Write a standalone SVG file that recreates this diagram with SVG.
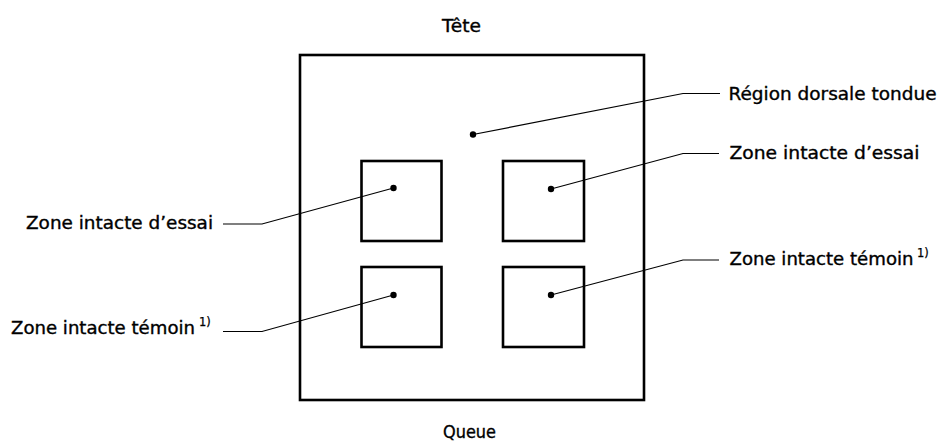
<svg xmlns="http://www.w3.org/2000/svg" width="940" height="442" viewBox="0 0 940 442">
<style>
.lbl{font-family:"DejaVu Sans","Liberation Sans",sans-serif;font-size:17px;fill:#000;stroke:#000;stroke-width:0.35}
.sup{font-family:"DejaVu Sans","Liberation Sans",sans-serif;font-size:11.5px;fill:#000;stroke:#000;stroke-width:0.25}
.box{fill:none;stroke:#000;stroke-width:2.6}
.lead{fill:none;stroke:#000;stroke-width:1.2}
.dot{fill:#000}
</style>
<rect width="940" height="442" fill="#fff"/>
<g id="outer">
<rect class="box" x="300" y="55" width="344" height="345" stroke-width="3"/>
</g>
<g id="tete"><text class="lbl" x="442" y="31.5" textLength="39" lengthAdjust="spacingAndGlyphs">Tête</text></g>
<g id="queue"><text class="lbl" x="443" y="438" textLength="53" lengthAdjust="spacingAndGlyphs">Queue</text></g>
<g id="zone-tl"><rect class="box" x="361.5" y="161" width="80" height="80"/><circle class="dot" cx="393.5" cy="188" r="3.2"/></g>
<g id="zone-bl"><rect class="box" x="361.5" y="267" width="80" height="80"/><circle class="dot" cx="393.5" cy="295" r="3.2"/></g>
<g id="zone-tr"><rect class="box" x="503" y="161" width="81" height="80"/><circle class="dot" cx="551" cy="189" r="3.2"/></g>
<g id="zone-br"><rect class="box" x="503" y="267" width="81" height="80"/><circle class="dot" cx="551" cy="295" r="3.2"/></g>
<g id="region-dot"><circle class="dot" cx="473" cy="134.5" r="3.2"/></g>
<g id="labels">
<text class="lbl" x="728.5" y="100" textLength="208" lengthAdjust="spacingAndGlyphs">Région dorsale tondue</text>
<text class="lbl" x="729.5" y="158.5" textLength="190" lengthAdjust="spacingAndGlyphs">Zone intacte d’essai</text>
<text class="lbl" x="729.5" y="264.5" textLength="184" lengthAdjust="spacingAndGlyphs">Zone intacte témoin</text>
<text class="sup" x="917" y="257">1)</text>
<text class="lbl" x="26" y="229" textLength="187" lengthAdjust="spacingAndGlyphs">Zone intacte d’essai</text>
<text class="lbl" x="11" y="333.5" textLength="184" lengthAdjust="spacingAndGlyphs">Zone intacte témoin</text>
<text class="sup" x="199" y="326">1)</text>
</g>
<g id="connectors">
<polyline class="lead" points="473,134.5 683,93.5 720,93.5"/>
<polyline class="lead" points="551,189 683,153.5 719,153.5"/>
<polyline class="lead" points="551,295 683,260 719,260"/>
<polyline class="lead" points="393.5,188 262,224 223,224"/>
<polyline class="lead" points="393.5,295 262,331.5 223,331.5"/>
</g>
</svg>
